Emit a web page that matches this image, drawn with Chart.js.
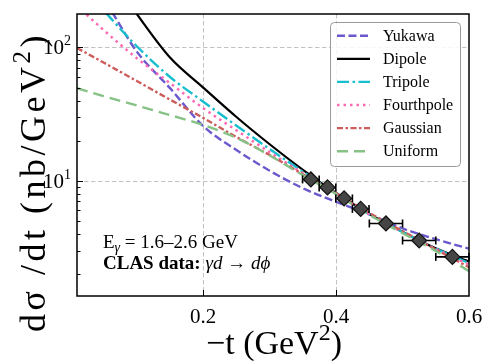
<!DOCTYPE html>
<html><head><meta charset="utf-8">
<script src="https://cdn.jsdelivr.net/npm/chart.js@4.4.1/dist/chart.umd.min.js"></script>
<style>html,body{margin:0;padding:0;background:#fff}canvas{display:block}</style>
</head><body>
<canvas id="c" width="488" height="362"></canvas>
<script>
// ---- data ----
const tGrid      = [0.01, 0.05, 0.10, 0.15, 0.20, 0.25, 0.30, 0.35, 0.40, 0.45, 0.50, 0.55, 0.60];
const yukawa     = [400,  230,  93,   49.5, 25.7, 17.0, 11.9, 8.8,  6.95, 5.6,  4.4,  3.65, 3.1];
const dipole     = [1200, 400,  178,  84,   50.0, 30.1, 18.8, 12.1, 8.1,  5.65, 4.15, 3.12, 2.48];
const tripole    = [320,  190,  102,  60,   39.2, 25.9, 17.3, 11.7, 8.05, 5.62, 4.13, 3.10, 2.42];
const fourthpole = [205,  135,  83,   54,   35.0, 23.9, 16.4, 11.4, 8.05, 5.6,  4.12, 3.08, 2.36];
const gaussian   = [99,   77,   56,   40.6, 29.6, 21.3, 15.6, 11.2, 8.05, 5.75, 4.2,  3.06, 2.25];
const uniform    = [49.4, 43.2, 36.7, 31.1, 26.2, 21.0, 15.5, 11.0, 7.95, 5.55, 4.05, 2.98, 2.1];

const dataT    = [0.362, 0.387, 0.412, 0.437, 0.475, 0.525, 0.575];
const dataY    = [10.24, 8.92, 7.38, 6.16, 4.79, 3.57, 2.69];
const dataTErr = [0.0125, 0.0125, 0.0125, 0.0125, 0.025, 0.025, 0.025];

const xTicks      = [0.2, 0.4, 0.6];
const xTickLabels = ['0.2', '0.4', '0.6'];
const yTicks      = [10, 100];
const yTickExps   = ['1', '2'];
const yMinorTicks = [2, 3, 4, 5, 6, 7, 8, 9, 20, 30, 40, 50, 60, 70, 80, 90];
const modelNames  = ['Yukawa', 'Dipole', 'Tripole', 'Fourthpole', 'Gaussian', 'Uniform'];
const modelSeries = [yukawa, dipole, tripole, fourthpole, gaussian, uniform];

// ---- styles ----
const SERIF = "'Liberation Serif','Times New Roman',serif";
const styles = [
  {color:'#6A5ACD', dash:[8,3.5],          width:2.4},
  {color:'#000000', dash:[],               width:2.2},
  {color:'#17BECF', dash:[12,3.5,2.5,3.5], width:2.4},
  {color:'#FF69B4', dash:[2.5,4],          width:2.5},
  {color:'#CD5C5C', dash:[6,2.5,2.5,2.5],  width:2.4},
  {color:'#86C186', dash:[11,6],           width:2.4}
];

const datasets = modelNames.map((name, i) => ({
  label: name,
  isModel: true,
  data: tGrid.map((t, k) => ({x: t, y: modelSeries[i][k]})),
  borderColor: styles[i].color,
  borderDash: styles[i].dash,
  borderWidth: styles[i].width,
  pointRadius: 0,
  fill: false,
  cubicInterpolationMode: 'monotone',
  order: 7 - i
}));
datasets.push({
  label: 'CLAS',
  isData: true,
  data: dataT.map((t, k) => ({x: t, y: dataY[k]})),
  showLine: false,
  pointStyle: 'rectRot',
  pointRadius: 7.5,
  pointBackgroundColor: '#454545',
  pointBorderColor: '#111111',
  pointBorderWidth: 1.2,
  order: 0
});

function seg(ctx, x1, y1, x2, y2){ ctx.beginPath(); ctx.moveTo(x1,y1); ctx.lineTo(x2,y2); ctx.stroke(); }

const decor = {
  id: 'decor',
  beforeDatasetsDraw(chart){
    const {ctx, chartArea:a, scales:{x, y}} = chart;
    ctx.save();
    ctx.strokeStyle = '#c2c2c2'; ctx.lineWidth = 1; ctx.setLineDash([4.5, 2.5]);
    xTicks.forEach(v => { if (v >= 0.6) return; const px = Math.round(x.getPixelForValue(v)) + 0.5; seg(ctx, px, a.top, px, a.bottom); });
    yTicks.forEach(v => { const py = Math.round(y.getPixelForValue(v)) + 0.5; seg(ctx, a.left, py, a.right, py); });
    ctx.restore();
  },
  beforeDatasetDraw(chart, args){
    const ds = chart.data.datasets[args.index];
    if (!ds.isData) return;
    const {ctx, scales:{x, y}} = chart;
    ctx.save();
    ctx.strokeStyle = '#000'; ctx.lineWidth = 1.6;
    dataT.forEach((t, k) => {
      const x1 = x.getPixelForValue(t - dataTErr[k]);
      const x2 = x.getPixelForValue(t + dataTErr[k]);
      const py = y.getPixelForValue(dataY[k]);
      seg(ctx, x1, py, x2, py);
      seg(ctx, x1, py - 4, x1, py + 4);
      seg(ctx, x2, py - 4, x2, py + 4);
    });
    ctx.restore();
  },
  afterDatasetsDraw(chart){
    const {ctx} = chart;
    ctx.save();
    // legend
    ctx.beginPath();
    ctx.roundRect(330.5, 22.5, 130, 144, 4);
    ctx.fillStyle = 'rgba(255,255,255,0.85)'; ctx.fill();
    ctx.strokeStyle = '#9a9a9a'; ctx.lineWidth = 1; ctx.stroke();
    const models = chart.data.datasets.filter(d => d.isModel);
    models.forEach((d, i) => {
      const ry = 35.7 + i * 23.1;
      ctx.strokeStyle = d.borderColor; ctx.lineWidth = d.borderWidth; ctx.setLineDash(d.borderDash);
      seg(ctx, 337, ry, 370, ry);
      ctx.setLineDash([]);
      ctx.fillStyle = '#000'; ctx.font = '16px ' + SERIF; ctx.textBaseline = 'middle'; ctx.textAlign = 'left';
      ctx.fillText(d.label, 383, ry + 1);
    });
    // annotation
    ctx.fillStyle = '#000'; ctx.textBaseline = 'alphabetic'; ctx.textAlign = 'left';
    let cx = 103;
    ctx.font = '19px ' + SERIF; ctx.fillText('E', cx, 248); cx += ctx.measureText('E').width;
    ctx.font = 'italic 14px ' + SERIF; ctx.fillText('γ', cx, 252); cx += ctx.measureText('γ').width;
    ctx.font = '19px ' + SERIF; ctx.fillText(' = 1.6–2.6 GeV', cx, 248);
    cx = 103;
    ctx.font = 'bold 19px ' + SERIF; ctx.fillText('CLAS data:', cx, 269); cx += ctx.measureText('CLAS data: ').width;
    ctx.font = 'italic 19px ' + SERIF; ctx.fillText('γd', cx, 269); cx += ctx.measureText('γd').width;
    ctx.font = '19px ' + SERIF; ctx.fillText(' → ', cx, 269); cx += ctx.measureText(' → ').width;
    ctx.font = 'italic 19px ' + SERIF; ctx.fillText('dϕ', cx, 269);
    ctx.restore();
  },
  afterDraw(chart){
    const {ctx, chartArea:a, scales:{x, y}} = chart;
    ctx.save();
    ctx.strokeStyle = '#000'; ctx.lineWidth = 1.5; ctx.setLineDash([]);
    ctx.strokeRect(a.left, a.top, a.right - a.left, a.bottom - a.top);
    ctx.lineWidth = 1;
    xTicks.forEach(v => { const px = Math.round(x.getPixelForValue(v)) + 0.5; if (v < 0.6) seg(ctx, px, a.bottom, px, a.bottom - 6); });
    yTicks.forEach(v => { const py = Math.round(y.getPixelForValue(v)) + 0.5; seg(ctx, a.left, py, a.left + 6, py); });
    yMinorTicks.forEach(v => { const py = Math.round(y.getPixelForValue(v)) + 0.5; seg(ctx, a.left, py, a.left + 3.5, py); });
    // tick labels
    ctx.fillStyle = '#000';
    ctx.font = '21px ' + SERIF; ctx.textAlign = 'center'; ctx.textBaseline = 'alphabetic';
    xTicks.forEach((v, i) => ctx.fillText(xTickLabels[i], x.getPixelForValue(v), a.bottom + 27));
    yTicks.forEach((v, i) => {
      const py = y.getPixelForValue(v);
      ctx.font = '14px ' + SERIF; const sw = ctx.measureText(yTickExps[i]).width;
      ctx.textAlign = 'right';
      ctx.fillText(yTickExps[i], a.left - 6, py - 2);
      ctx.font = '21px ' + SERIF;
      ctx.fillText('10', a.left - 6 - sw, py + 7);
    });
    // x title
    ctx.textAlign = 'left';
    const big = '34px ' + SERIF, sup = '24px ' + SERIF;
    ctx.font = big; const w1 = ctx.measureText('−t (GeV').width;
    ctx.font = sup; const w2 = ctx.measureText('2').width;
    ctx.font = big; const w3 = ctx.measureText(')').width;
    let sx = 274 - (w1 + w2 + w3) / 2;
    ctx.fillText('−t (GeV', sx, 354); sx += w1;
    ctx.font = sup; ctx.fillText('2', sx, 340); sx += w2;
    ctx.font = big; ctx.fillText(')', sx, 354);
    // y title (rotated)
    ctx.translate(45, 182); ctx.rotate(-Math.PI / 2);
    const bigY = '36px ' + SERIF, supY = '25px ' + SERIF;
    ctx.letterSpacing = '3.5px';
    ctx.font = bigY; const v1 = ctx.measureText('dσ /dt (nb/GeV').width;
    ctx.font = supY; const v2 = ctx.measureText('2').width;
    ctx.font = bigY; const v3 = ctx.measureText(')').width;
    let sy = -(v1 + v2 + v3) / 2;
    ctx.fillText('dσ /dt (nb/GeV', sy, 0); sy += v1;
    ctx.font = supY; ctx.fillText('2', sy, -15); sy += v2;
    ctx.font = bigY; ctx.fillText(')', sy, 0);
    ctx.restore();
  }
};

new Chart(document.getElementById('c'), {
  type: 'line',
  data: { datasets },
  options: {
    responsive: false,
    animation: false,
    devicePixelRatio: 1,
    events: [],
    layout: { padding: { left: 0, right: 19, top: 14, bottom: 0 } },
    plugins: { legend: { display: false }, tooltip: { enabled: false } },
    scales: {
      x: {
        type: 'linear', min: 0.01, max: 0.6,
        grid: { display: false }, border: { display: false },
        ticks: { display: false },
        afterFit: s => { s.height = 66; }
      },
      y: {
        type: 'logarithmic', min: 1.37, max: 178,
        grid: { display: false }, border: { display: false },
        ticks: { display: false },
        afterFit: s => { s.width = 77; }
      }
    }
  },
  plugins: [decor]
});
</script>
</body></html>
